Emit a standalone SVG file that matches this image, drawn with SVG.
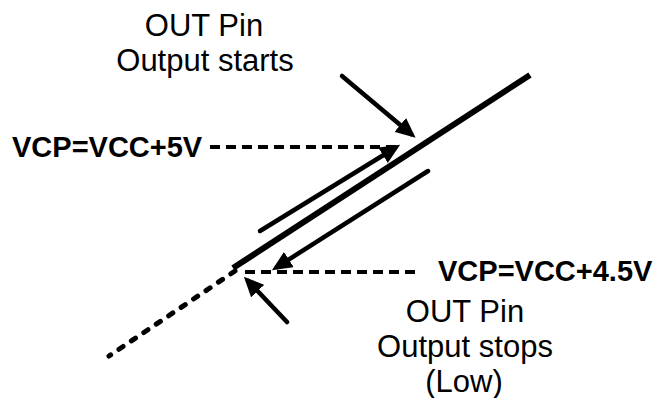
<svg xmlns="http://www.w3.org/2000/svg" width="656" height="398" viewBox="0 0 656 398">
  <style>
    .lbl { font-family: "Liberation Sans", Arial, sans-serif; font-size: 31px; fill: #000; text-anchor: middle; }
    .bold { font-family: "Liberation Sans", Arial, sans-serif; font-size: 29px; font-weight: bold; fill: #000; }
    .arrow { stroke: #000; stroke-width: 4.5; fill: none; stroke-linecap: round; marker-end: url(#head); }
    .dash { stroke: #000; stroke-width: 4; fill: none; stroke-dasharray: 10 6; }
    .thick { stroke: #000; stroke-width: 6; fill: none; }
  </style>
  <defs>
    <marker id="head" markerUnits="userSpaceOnUse" markerWidth="20" markerHeight="18" refX="14" refY="9" orient="auto" viewBox="0 0 20 18">
      <path d="M0,0 L20,9 L0,18 z" fill="#000"/>
    </marker>
  </defs>
  <rect width="656" height="398" fill="#fff"/>

  <g id="connectors">
    <line class="thick" x1="233" y1="268" x2="530" y2="75"/>
    <line x1="235" y1="271" x2="109" y2="356" stroke="#000" stroke-width="5" stroke-linecap="round" stroke-dasharray="5 10" fill="none"/>
    <line class="dash" x1="210" y1="147" x2="396" y2="147"/>
    <line class="dash" x1="245" y1="272" x2="417" y2="272"/>
    <line class="arrow" x1="260" y1="231" x2="395" y2="148"/>
    <line class="arrow" x1="428" y1="171" x2="277" y2="267"/>
    <line class="arrow" x1="342" y1="76" x2="411" y2="134"/>
    <line class="arrow" x1="287" y1="322" x2="248" y2="281"/>
  </g>

  <g id="label-start">
    <text class="lbl" x="204" y="36">OUT Pin</text>
    <text class="lbl" x="205" y="71">Output starts</text>
  </g>
  <g id="label-vcp5">
    <text class="bold" x="12" y="157">VCP=VCC+5V</text>
  </g>
  <g id="label-vcp45">
    <text class="bold" x="438" y="281">VCP=VCC+4.5V</text>
  </g>
  <g id="label-stop">
    <text class="lbl" x="465" y="322">OUT Pin</text>
    <text class="lbl" x="465" y="357">Output stops</text>
    <text class="lbl" x="464" y="392">(Low)</text>
  </g>
</svg>
